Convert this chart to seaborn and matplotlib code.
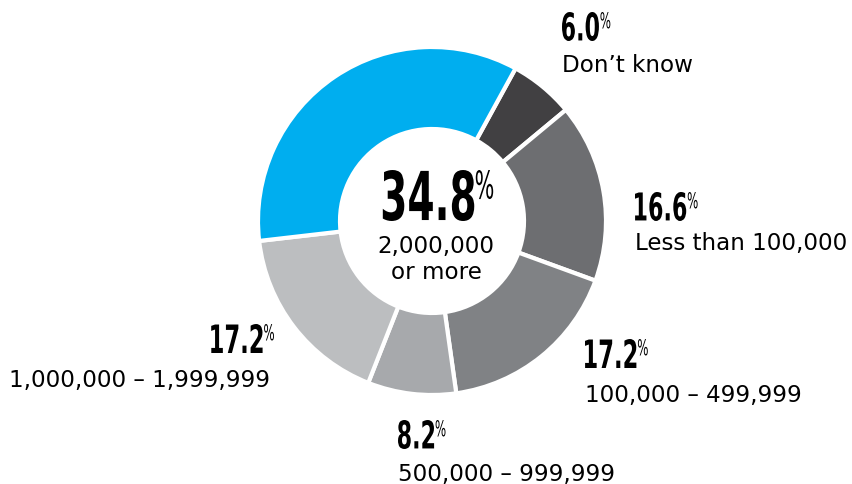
import matplotlib
matplotlib.use("Agg")
import matplotlib.pyplot as plt
import seaborn as sns
from matplotlib.textpath import TextPath
from matplotlib.patches import PathPatch
from matplotlib.font_manager import FontProperties
from matplotlib.transforms import Affine2D

# data (clockwise from the top)
categories = ["Don\u2019t know", "Less than 100,000", "100,000 \u2013 499,999",
              "500,000 \u2013 999,999", "1,000,000 \u2013 1,999,999", "2,000,000", "or more"]
shares = [6.0, 16.6, 17.2, 8.2, 17.2, 34.8]
value_labels = ["6.0", "16.6", "17.2", "8.2", "17.2", "34.8"]
colors = ["#414042", "#6d6e71", "#808285", "#a7a9ac", "#bcbec0", "#00aeef"]

sns.set_theme(style="white")
plt.rcParams["font.family"] = ["DejaVu Sans"]

W, H = 852, 485
fig = plt.figure(figsize=(W / 100, H / 100), dpi=100)
ax = fig.add_axes([0, 0, 1, 1])

cx, cy = 432, H - 222
R, r_in = 174, 92
ax.pie(shares, colors=sns.color_palette(colors), startangle=61.3, counterclock=False,
       center=(cx, cy), radius=R,
       wedgeprops=dict(width=R - r_in, edgecolor="white", linewidth=3))
ax.set_xlim(0, W)
ax.set_ylim(0, H)
ax.set_aspect("equal")
ax.axis("off")

bold_fp = FontProperties(family="DejaVu Sans", weight="bold")
reg_fp = FontProperties(family="DejaVu Sans")


def glyphs(txt, fp, x0, ybottom, h, squeeze):
    # draw text as a horizontally condensed outline, h = ink height in pixels
    tp = TextPath((0, 0), txt, size=1, prop=fp)
    bb = tp.get_extents()
    s = h / bb.height
    tr = Affine2D().translate(-bb.x0, -bb.y0).scale(s * squeeze, s).translate(x0, ybottom)
    ax.add_patch(PathPatch(tr.transform_path(tp), facecolor="black", edgecolor="none"))
    return bb.width * s * squeeze


def pct_width(txt, h, ph):
    tp = TextPath((0, 0), txt, size=1, prop=bold_fp).get_extents()
    pp = TextPath((0, 0), "%", size=1, prop=reg_fp).get_extents()
    return tp.width * h / tp.height * 0.58 + 1.5 + pp.width * ph / pp.height * 0.54


def number(x, ytop, txt, h, ha="left"):
    ph = h * 0.57
    if ha == "right":
        x = x - pct_width(txt, h, ph)
    elif ha == "center":
        x = x - pct_width(txt, h, ph) / 2
    w = glyphs(txt, bold_fp, x, H - ytop - h, h, 0.58)
    glyphs("%", reg_fp, x + w + 1.5, H - ytop - ph, ph, 0.54)


# outer labels: (x, top of number, alignment, label baseline)
spots = [
    (562, 13, "left", 72),
    (635, 193, "left", 250),
    (585, 340, "left", 402),
    (398, 421, "left", 481),
    (274, 325, "right", 387),
]
for (x, y, ha, base), val, lab in zip(spots, value_labels[:5], categories[:5]):
    number(x, y, val, 29, ha=ha)
    lx = x if ha == "left" else 270
    ax.text(lx, H - base, lab, fontsize=16.6, ha=ha, va="baseline", color="black")

# centre label
number(438, 171, value_labels[5], 51, ha="center")
ax.text(436, H - 253, categories[5], fontsize=16.6, ha="center", va="baseline", color="black")
ax.text(436, H - 279, categories[6], fontsize=16.6, ha="center", va="baseline", color="black")

fig.savefig("out.png", dpi=100)
